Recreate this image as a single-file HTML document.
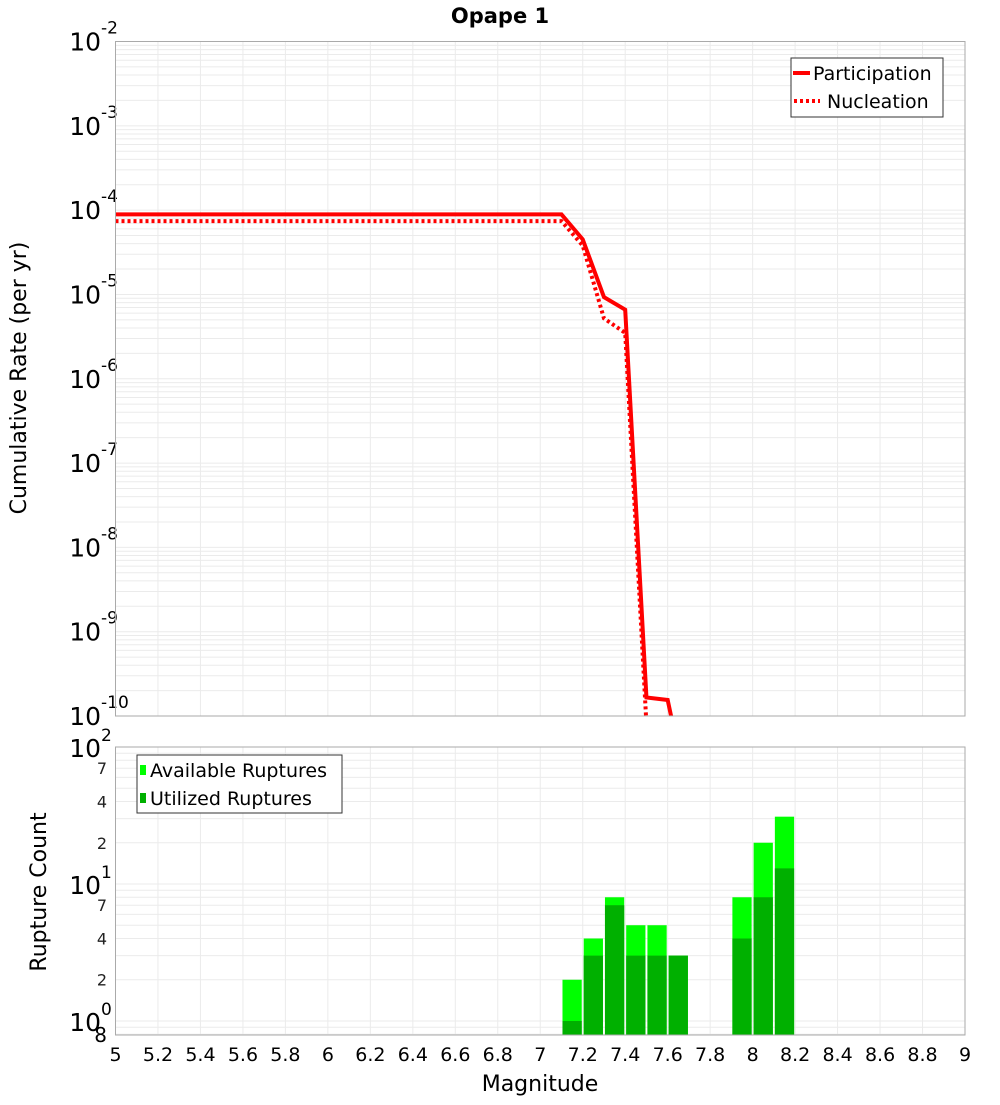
<!DOCTYPE html>
<html><head><meta charset="utf-8"><style>
body{margin:0;background:#fff}
svg{font-family:"DejaVu Sans","Liberation Sans",sans-serif}
</style></head><body>
<svg id="chart" width="1000" height="1100" xmlns="http://www.w3.org/2000/svg">
<rect width="1000" height="1100" fill="#fff"/>
<text x="500" y="23" text-anchor="middle" font-size="21" font-weight="bold">Opape 1</text>
<g id="topPlot"></g>
<g id="botPlot"></g>
<text transform="translate(26,378) rotate(-90)" text-anchor="middle" font-size="22">Cumulative Rate (per yr)</text>
<text transform="translate(46,892) rotate(-90)" text-anchor="middle" font-size="22">Rupture Count</text>
<text x="540" y="1091" text-anchor="middle" font-size="22">Magnitude</text>
</svg>
<script>
const partMags=[5,7.1,7.2,7.3,7.4,7.5,7.6,7.7];
const partRates=[8.9e-5,8.9e-5,4.5e-5,9.3e-6,6.6e-6,1.66e-10,1.55e-10,1e-11];
const nuclMags=[5,7.1,7.2,7.3,7.4,7.5];
const nuclRates=[7.4e-5,7.4e-5,3.8e-5,5.2e-6,3.5e-6,8e-11];
const binStarts=[7.1,7.2,7.3,7.4,7.5,7.6,7.9,8.0,8.1];
const availCounts=[2,4,8,5,5,3,8,20,31];
const utilCounts=[1,3,7,3,3,3,4,8,13];
const xTicks=[5,5.2,5.4,5.6,5.8,6,6.2,6.4,6.6,6.8,7,7.2,7.4,7.6,7.8,8,8.2,8.4,8.6,8.8,9];
const topDecades=[-2,-3,-4,-5,-6,-7,-8,-9,-10];
const botMinorLabels=[7,4,2];

const NS="http://www.w3.org/2000/svg";
const L=115.5,R=965,T1=41.5,B1=716,T2=747,B2=1035;
const X=m=>L+(m-5)/4*(R-L);
const Y1=v=>T1+(-2-Math.log10(v))/8*(B1-T1);
const botMin=Math.log10(0.79),botMax=2;
const Y2=v=>T2+(botMax-Math.log10(v))/(botMax-botMin)*(B2-T2);
function mk(p,tag,a,txt){const e=document.createElementNS(NS,tag);for(const k in a)e.setAttribute(k,a[k]);if(txt!==undefined)e.textContent=txt;p.appendChild(e);return e;}
const topG=document.getElementById('topPlot'),botG=document.getElementById('botPlot');
const svgEl=document.getElementById('chart');
const defs=mk(svgEl,'defs',{});
const c1=mk(defs,'clipPath',{id:'c1'});mk(c1,'rect',{x:L,y:T1,width:R-L,height:B1-T1});
const c2=mk(defs,'clipPath',{id:'c2'});mk(c2,'rect',{x:L,y:T2,width:R-L,height:B2-T2});
for(let d=-10;d<-2;d++){for(let k=1;k<10;k++){const v=k*Math.pow(10,d);const y=Y1(v);if(y<T1-0.1)continue;
const g=mk(topG,'line',{x1:L,x2:R,y1:y,y2:y,stroke:'#ebebeb','stroke-width':1});

}}
xTicks.forEach(m=>{const g=mk(topG,'line',{x1:X(m),x2:X(m),y1:T1,y2:B1,stroke:'#ebebeb'});


const h=mk(botG,'line',{x1:X(m),x2:X(m),y1:T2,y2:B2,stroke:'#ebebeb'});

});
for(let d=-1;d<2;d++){for(let k=1;k<10;k++){const v=k*Math.pow(10,d);if(v<0.79)continue;const y=Y2(v);
const g=mk(botG,'line',{x1:L,x2:R,y1:y,y2:y,stroke:'#ebebeb'});

}}
topDecades.forEach(d=>{const y=Y1(Math.pow(10,d));
const t=mk(topG,'text',{x:101,y:y+9,'text-anchor':'end','font-size':25},'10');


const s=mk(topG,'text',{x:101,y:y-8,'font-size':17},String(d));

});
function line(ms,vs,dash,name){const pts=ms.map((m,i)=>X(m)+','+Y1(vs[i])).join(' ');
const p=mk(topG,'polyline',{points:pts,fill:'none',stroke:'#ff0000','stroke-width':4,'clip-path':'url(#c1)'});
if(dash)p.setAttribute('stroke-dasharray','3,3');

}
line(partMags,partRates,false,'participation-line');
line(nuclMags,nuclRates,true,'nucleation-line');
mk(topG,'rect',{x:L,y:T1,width:R-L,height:B1-T1,fill:'none',stroke:'#aaa'});
const lg=mk(topG,'g',{});


mk(lg,'rect',{x:791,y:58,width:152,height:59,fill:'#fff',stroke:'#333'});
mk(lg,'line',{x1:793,x2:810,y1:73,y2:73,stroke:'#f00','stroke-width':4});
mk(lg,'text',{x:813,y:80,'font-size':19},'Participation');
mk(lg,'line',{x1:794,x2:820,y1:101,y2:101,stroke:'#f00','stroke-width':4,'stroke-dasharray':'3,3'});
mk(lg,'text',{x:827,y:108,'font-size':19},'Nucleation');
binStarts.forEach((b,i)=>{const x0=X(b)+1,w=X(b+0.1)-X(b)-2;
const a=mk(botG,'rect',{x:x0,y:Y2(availCounts[i]),width:w,height:B2-Y2(availCounts[i]),fill:'#00ff00','clip-path':'url(#c2)'});


const u=mk(botG,'rect',{x:x0,y:Y2(utilCounts[i]),width:w,height:B2-Y2(utilCounts[i]),fill:'#00b000','clip-path':'url(#c2)'});

});
mk(botG,'rect',{x:L,y:T2,width:R-L,height:B2-T2,fill:'none',stroke:'#aaa'});
[2,1,0].forEach(d=>{const y=Y2(Math.pow(10,d));
const t=mk(botG,'text',{x:101,y:y+10,'text-anchor':'end','font-size':25},'10');


const s=mk(botG,'text',{x:101,y:y-6,'font-size':17},String(d));


if(d>0)botMinorLabels.forEach(k=>{const v=k*Math.pow(10,d-1);const yy=Y2(v);
const m=mk(botG,'text',{x:107,y:yy+6,'text-anchor':'end','font-size':16,fill:'#222'},String(k));

});});
const e8=mk(botG,'text',{x:107,y:1042,'text-anchor':'end','font-size':20},'8');


xTicks.forEach(m=>{const t=mk(botG,'text',{x:X(m),y:1061,'text-anchor':'middle','font-size':19},String(m));

});
const lb=mk(botG,'g',{});


mk(lb,'rect',{x:137,y:755,width:205,height:58,fill:'#fff',stroke:'#333'});
mk(lb,'rect',{x:140,y:765,width:6,height:10,fill:'#00ff00'});
mk(lb,'text',{x:150,y:777,'font-size':19},'Available Ruptures');
mk(lb,'rect',{x:140,y:793,width:6,height:10,fill:'#00b000'});
mk(lb,'text',{x:150,y:805,'font-size':19},'Utilized Ruptures');
</script>
</body></html>
